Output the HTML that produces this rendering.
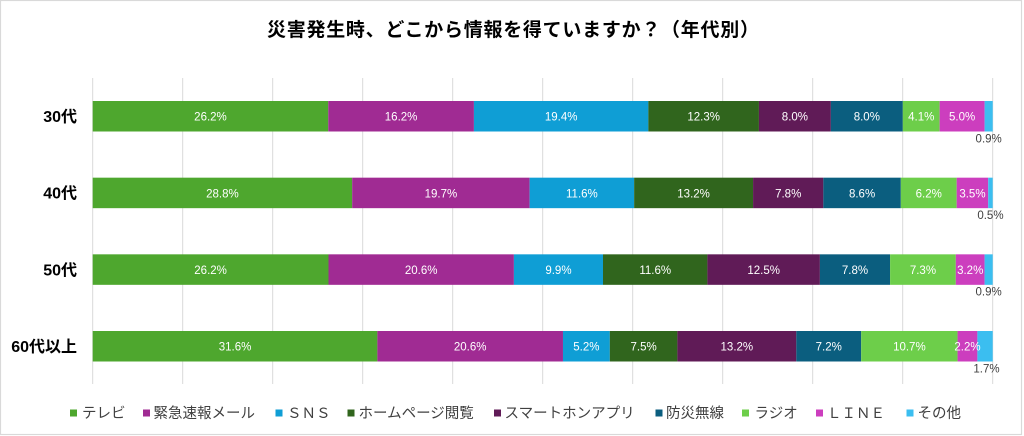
<!DOCTYPE html>
<html>
<head>
<meta charset="utf-8">
<style>
  html, body { margin:0; padding:0; background:#fff; }
  body { width:1024px; height:436px; overflow:hidden; }
  svg { display:block; }
  .t { font-family:"Liberation Sans","Noto Sans CJK JP",sans-serif; }
  .dl { font-family:"Liberation Sans",sans-serif; font-size:11.5px; fill:#ffffff; text-anchor:middle; }
  .ol { font-family:"Liberation Sans",sans-serif; font-size:11.5px; fill:#404040; text-anchor:middle; }
  .cat { font-family:"Liberation Sans","Noto Sans CJK JP",sans-serif; font-size:16px; font-weight:bold; fill:#000; text-anchor:end; }
  .lg { font-family:"Liberation Sans","Noto Sans CJK JP",sans-serif; font-size:14.5px; fill:#404040; }
</style>
</head>
<body>
<svg width="1024" height="436" viewBox="0 0 1024 436" xmlns="http://www.w3.org/2000/svg">
  <rect x="0" y="0" width="1024" height="436" fill="#ffffff"/>
  <rect x="0.5" y="0.5" width="1021" height="434" fill="none" stroke="#D9D9D9" stroke-width="1.2"/>

  <!-- title -->
  <text class="t" x="267" y="36" font-size="19px" font-weight="bold" fill="#000" textLength="492" lengthAdjust="spacing">災害発生時、どこから情報を得ていますか？（年代別）</text>

  <!-- gridlines -->
  <g stroke="#D9D9D9" stroke-width="1">
    <line x1="92.7" y1="78" x2="92.7" y2="384"/>
    <line x1="182.7" y1="78" x2="182.7" y2="384"/>
    <line x1="272.7" y1="78" x2="272.7" y2="384"/>
    <line x1="362.7" y1="78" x2="362.7" y2="384"/>
    <line x1="452.7" y1="78" x2="452.7" y2="384"/>
    <line x1="542.7" y1="78" x2="542.7" y2="384"/>
    <line x1="632.7" y1="78" x2="632.7" y2="384"/>
    <line x1="722.7" y1="78" x2="722.7" y2="384"/>
    <line x1="812.7" y1="78" x2="812.7" y2="384"/>
    <line x1="902.7" y1="78" x2="902.7" y2="384"/>
    <line x1="992.7" y1="78" x2="992.7" y2="384"/>
  </g>

  <!-- Row 30代 -->
  <g>
    <rect x="92.7" y="101" width="235.57" height="30.5" fill="#4EA72E"/>
    <rect x="328.27" y="101" width="145.65" height="30.5" fill="#A02B93"/>
    <rect x="473.92" y="101" width="174.43" height="30.5" fill="#0F9ED5"/>
    <rect x="648.35" y="101" width="110.59" height="30.5" fill="#30651D"/>
    <rect x="758.94" y="101" width="71.93" height="30.5" fill="#601B57"/>
    <rect x="830.87" y="101" width="71.93" height="30.5" fill="#0B5E7F"/>
    <rect x="902.80" y="101" width="36.86" height="30.5" fill="#6DCE4A"/>
    <rect x="939.66" y="101" width="44.96" height="30.5" fill="#CC3EBE"/>
    <rect x="984.62" y="101" width="8.09" height="30.5" fill="#3BBEF0"/>
    <text class="dl" x="210.49" y="120.6">26.2%</text>
    <text class="dl" x="401.10" y="120.6">16.2%</text>
    <text class="dl" x="561.14" y="120.6">19.4%</text>
    <text class="dl" x="703.65" y="120.6">12.3%</text>
    <text class="dl" x="794.91" y="120.6">8.0%</text>
    <text class="dl" x="866.84" y="120.6">8.0%</text>
    <text class="dl" x="921.23" y="120.6">4.1%</text>
    <text class="dl" x="962.14" y="120.6">5.0%</text>
    <text class="ol" x="988.67" y="142.3">0.9%</text>
    <text class="cat" x="77" y="122">30代</text>
  </g>

  <!-- Row 40代 -->
  <g>
    <rect x="92.7" y="177.67" width="259.46" height="30.5" fill="#4EA72E"/>
    <rect x="352.16" y="177.67" width="177.48" height="30.5" fill="#A02B93"/>
    <rect x="529.64" y="177.67" width="104.50" height="30.5" fill="#0F9ED5"/>
    <rect x="634.14" y="177.67" width="118.92" height="30.5" fill="#30651D"/>
    <rect x="753.06" y="177.67" width="70.27" height="30.5" fill="#601B57"/>
    <rect x="823.33" y="177.67" width="77.48" height="30.5" fill="#0B5E7F"/>
    <rect x="900.81" y="177.67" width="55.86" height="30.5" fill="#6DCE4A"/>
    <rect x="956.67" y="177.67" width="31.53" height="30.5" fill="#CC3EBE"/>
    <rect x="988.20" y="177.67" width="4.50" height="30.5" fill="#3BBEF0"/>
    <text class="dl" x="222.43" y="197.25">28.8%</text>
    <text class="dl" x="440.90" y="197.25">19.7%</text>
    <text class="dl" x="581.89" y="197.25">11.6%</text>
    <text class="dl" x="693.60" y="197.25">13.2%</text>
    <text class="dl" x="788.20" y="197.25">7.8%</text>
    <text class="dl" x="862.07" y="197.25">8.6%</text>
    <text class="dl" x="928.74" y="197.25">6.2%</text>
    <text class="dl" x="972.44" y="197.25">3.5%</text>
    <text class="ol" x="990.45" y="218.97">0.5%</text>
    <text class="cat" x="77" y="198.67">40代</text>
  </g>

  <!-- Row 50代 -->
  <g>
    <rect x="92.7" y="254.33" width="235.8" height="30.5" fill="#4EA72E"/>
    <rect x="328.5" y="254.33" width="185.4" height="30.5" fill="#A02B93"/>
    <rect x="513.9" y="254.33" width="89.1" height="30.5" fill="#0F9ED5"/>
    <rect x="603.0" y="254.33" width="104.4" height="30.5" fill="#30651D"/>
    <rect x="707.4" y="254.33" width="112.5" height="30.5" fill="#601B57"/>
    <rect x="819.9" y="254.33" width="70.2" height="30.5" fill="#0B5E7F"/>
    <rect x="890.1" y="254.33" width="65.7" height="30.5" fill="#6DCE4A"/>
    <rect x="955.8" y="254.33" width="28.8" height="30.5" fill="#CC3EBE"/>
    <rect x="984.6" y="254.33" width="8.1" height="30.5" fill="#3BBEF0"/>
    <text class="dl" x="210.6" y="273.9">26.2%</text>
    <text class="dl" x="421.2" y="273.9">20.6%</text>
    <text class="dl" x="558.45" y="273.9">9.9%</text>
    <text class="dl" x="655.2" y="273.9">11.6%</text>
    <text class="dl" x="763.65" y="273.9">12.5%</text>
    <text class="dl" x="855.0" y="273.9">7.8%</text>
    <text class="dl" x="922.95" y="273.9">7.3%</text>
    <text class="dl" x="970.2" y="273.9">3.2%</text>
    <text class="ol" x="988.65" y="295.63">0.9%</text>
    <text class="cat" x="77" y="275.33">50代</text>
  </g>

  <!-- Row 60代以上 -->
  <g>
    <rect x="92.7" y="331" width="284.68" height="30.5" fill="#4EA72E"/>
    <rect x="377.38" y="331" width="185.59" height="30.5" fill="#A02B93"/>
    <rect x="562.97" y="331" width="46.85" height="30.5" fill="#0F9ED5"/>
    <rect x="609.82" y="331" width="67.57" height="30.5" fill="#30651D"/>
    <rect x="677.39" y="331" width="118.92" height="30.5" fill="#601B57"/>
    <rect x="796.31" y="331" width="64.86" height="30.5" fill="#0B5E7F"/>
    <rect x="861.17" y="331" width="96.40" height="30.5" fill="#6DCE4A"/>
    <rect x="957.57" y="331" width="19.82" height="30.5" fill="#CC3EBE"/>
    <rect x="977.39" y="331" width="15.32" height="30.5" fill="#3BBEF0"/>
    <text class="dl" x="235.04" y="350.6">31.6%</text>
    <text class="dl" x="470.18" y="350.6">20.6%</text>
    <text class="dl" x="586.40" y="350.6">5.2%</text>
    <text class="dl" x="643.61" y="350.6">7.5%</text>
    <text class="dl" x="736.85" y="350.6">13.2%</text>
    <text class="dl" x="828.74" y="350.6">7.2%</text>
    <text class="dl" x="909.37" y="350.6">10.7%</text>
    <text class="dl" x="967.48" y="350.6">2.2%</text>
    <text class="ol" x="986.5" y="372.3">1.7%</text>
    <text class="cat" x="77" y="352">60代以上</text>
  </g>

  <!-- legend -->
  <g>
    <rect x="70" y="409.5" width="7" height="7" fill="#4EA72E"/>
    <text class="lg" x="82" y="418">テレビ</text>
    <rect x="143" y="409.5" width="7" height="7" fill="#A02B93"/>
    <text class="lg" x="153.5" y="418">緊急速報メール</text>
    <rect x="275.5" y="409.5" width="7" height="7" fill="#0F9ED5"/>
    <text class="lg" x="287" y="418">ＳＮＳ</text>
    <rect x="347.5" y="409.5" width="7" height="7" fill="#30651D"/>
    <text class="lg" x="358.5" y="418">ホームページ閲覧</text>
    <rect x="494" y="409.5" width="7" height="7" fill="#601B57"/>
    <text class="lg" x="504.5" y="418">スマートホンアプリ</text>
    <rect x="655.5" y="409.5" width="7" height="7" fill="#0B5E7F"/>
    <text class="lg" x="666" y="418">防災無線</text>
    <rect x="742" y="409.5" width="7" height="7" fill="#6DCE4A"/>
    <text class="lg" x="754.5" y="418">ラジオ</text>
    <rect x="816" y="409.5" width="7" height="7" fill="#CC3EBE"/>
    <text class="lg" x="827" y="418">ＬＩＮＥ</text>
    <rect x="906.5" y="409.5" width="7" height="7" fill="#3BBEF0"/>
    <text class="lg" x="917.5" y="418">その他</text>
  </g>
</svg>
</body>
</html>
